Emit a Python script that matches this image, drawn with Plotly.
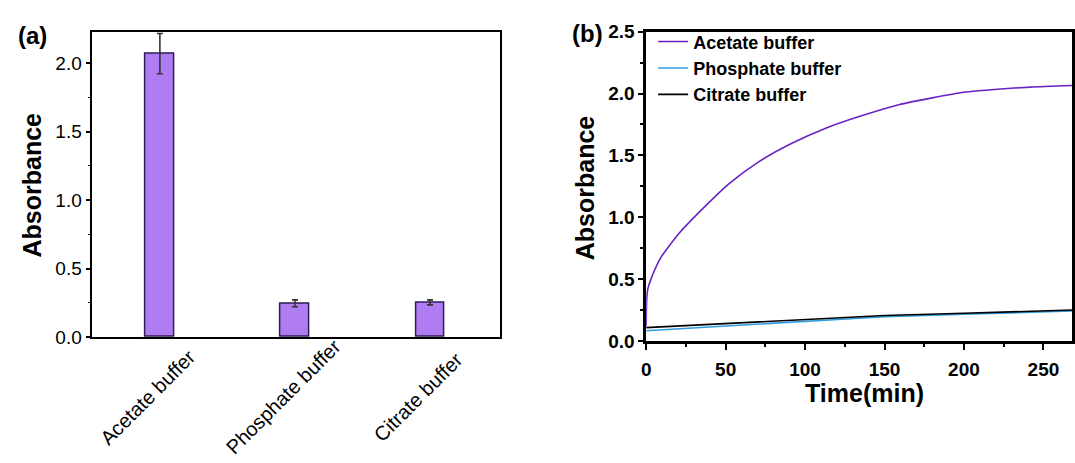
import plotly.graph_objects as go

# ---------------- data ----------------
buffers = ["Acetate buffer", "Phosphate buffer", "Citrate buffer"]
bar_values = [2.07, 0.247, 0.254]
bar_errors = [0.147, 0.025, 0.018]

time_acetate = [0, 0.3, 1, 3, 9, 21, 38, 52, 71, 92, 113, 133, 159, 180, 200, 221, 242, 268]
abs_acetate = [0.12, 0.33, 0.42, 0.50, 0.67, 0.875, 1.10, 1.27, 1.45, 1.60, 1.72, 1.81,
               1.91, 1.965, 2.01, 2.035, 2.052, 2.065]

time_phosphate = [0, 50, 100, 150, 200, 268]
abs_phosphate = [0.083, 0.121, 0.160, 0.196, 0.216, 0.242]

time_citrate = [0, 50, 100, 150, 200, 268]
abs_citrate = [0.108, 0.139, 0.175, 0.206, 0.224, 0.250]

y_ticks_a = [0.0, 0.5, 1.0, 1.5, 2.0]
y_ticks_b = [0.0, 0.5, 1.0, 1.5, 2.0, 2.5]
x_ticks_b = [0, 50, 100, 150, 200, 250]

FONT = "Arial, Liberation Sans, sans-serif"
W, H = 1075, 463

fig = go.Figure()

# ---------------- panel (a) ----------------
fig.add_trace(go.Bar(
    x=buffers, y=bar_values,
    error_y=dict(type="data", array=bar_errors, visible=True,
                 color="#333333", thickness=1.6, width=3),
    marker=dict(color="#b07cf2", line=dict(color="#2e1a55", width=1.5)),
    width=0.21, showlegend=False, xaxis="x", yaxis="y",
))

# ---------------- panel (b) ----------------
fig.add_trace(go.Scatter(
    x=time_acetate, y=abs_acetate, mode="lines", name="Acetate buffer",
    line=dict(color="#6a22c4", width=1.6, shape="spline", smoothing=0.6),
    xaxis="x2", yaxis="y2",
))
fig.add_trace(go.Scatter(
    x=time_phosphate, y=abs_phosphate, mode="lines", name="Phosphate buffer",
    line=dict(color="#2f9be0", width=1.6),
    xaxis="x2", yaxis="y2",
))
fig.add_trace(go.Scatter(
    x=time_citrate, y=abs_citrate, mode="lines", name="Citrate buffer",
    line=dict(color="#000000", width=1.6),
    xaxis="x2", yaxis="y2",
))

annotations = []
# rotated category labels for panel (a)
for b in buffers:
    annotations.append(dict(
        x=b, y=1 - 405 / H, xref="x", yref="paper", text=b, showarrow=False,
        textangle=-45, xanchor="center", yanchor="middle", xshift=-12,
        font=dict(family=FONT, size=20, color="#000000"),
    ))

annotations += [
    dict(x=28 / W, y=1 - 27 / H, xref="paper", yref="paper", text="<b>(a)</b>",
         showarrow=False, xanchor="center", yanchor="middle",
         font=dict(family=FONT, size=24, color="#000000")),
    dict(x=587 / W, y=1 - 25 / H, xref="paper", yref="paper", text="<b>(b)</b>",
         showarrow=False, xanchor="center", yanchor="middle",
         font=dict(family=FONT, size=24, color="#000000")),
    dict(x=27 / W, y=1 - 183 / H, xref="paper", yref="paper", text="<b>Absorbance</b>",
         showarrow=False, textangle=-90, xanchor="center", yanchor="middle",
         font=dict(family=FONT, size=25, color="#000000")),
    dict(x=584 / W, y=1 - 186 / H, xref="paper", yref="paper", text="<b>Absorbance</b>",
         showarrow=False, textangle=-90, xanchor="center", yanchor="middle",
         font=dict(family=FONT, size=25, color="#000000")),
    dict(x=866 / W, y=1 - 401 / H, xref="paper", yref="paper", text="<b>Time(min)</b>",
         showarrow=False, xanchor="center", yanchor="middle",
         font=dict(family=FONT, size=25, color="#000000")),
]

fig.update_layout(
    width=W, height=H,
    margin=dict(l=0, r=0, t=0, b=0),
    paper_bgcolor="white", plot_bgcolor="white",
    font=dict(family=FONT, color="#000000"),
    bargap=0.0,
    xaxis=dict(
        domain=[88 / W, 499 / W], anchor="y",
        range=[-0.5, 2.52], type="category",
        showline=True, linecolor="#000000", linewidth=1.5, mirror=True,
        ticks="", showticklabels=False, showgrid=False, zeroline=False,
    ),
    yaxis=dict(
        domain=[1 - 342.7 / H, 1 - 22.7 / H], anchor="x",
        range=[0, 2.23],
        tickvals=y_ticks_a, ticktext=[f"{v:.1f}" for v in y_ticks_a],
        showline=True, linecolor="#000000", linewidth=1.5, mirror=True,
        ticks="outside", ticklen=5, tickwidth=1.5, tickcolor="#000000",
        minor=dict(dtick=0.25, ticks="outside", ticklen=3, tickwidth=1.2,
                   tickcolor="#000000", showgrid=False),
        tickfont=dict(family=FONT, size=19, color="#000000"),
        showgrid=False, zeroline=False,
    ),
    xaxis2=dict(
        domain=[646 / W, 1.0], anchor="y2",
        range=[0, 268],
        tickvals=x_ticks_b, ticktext=[f"<b>{v}</b>" for v in x_ticks_b],
        showline=True, linecolor="#000000", linewidth=2.5, mirror=True,
        ticks="outside", ticklen=6, tickwidth=2, tickcolor="#000000",
        minor=dict(dtick=25, ticks="outside", ticklen=3, tickwidth=1.5,
                   tickcolor="#000000", showgrid=False),
        tickfont=dict(family=FONT, size=19, color="#000000"),
        ticklabelstandoff=3,
        showgrid=False, zeroline=False,
    ),
    yaxis2=dict(
        domain=[1 - 346.7 / H, 1 - 22.7 / H], anchor="x2",
        range=[0, 2.5],
        tickvals=y_ticks_b, ticktext=[f"<b>{v:.1f}</b>" for v in y_ticks_b],
        showline=True, linecolor="#000000", linewidth=2.5, mirror=True,
        ticks="outside", ticklen=5, tickwidth=2, tickcolor="#000000",
        minor=dict(dtick=0.25, ticks="outside", ticklen=3, tickwidth=1.5,
                   tickcolor="#000000", showgrid=False),
        tickfont=dict(family=FONT, size=19, color="#000000"),
        showgrid=False, zeroline=False,
    ),
    legend=dict(
        x=653 / W, y=1 - 14 / H, xanchor="left", yanchor="top",
        bgcolor="rgba(0,0,0,0)", borderwidth=0,
        font=dict(family=FONT, size=18, color="#000000", weight="bold"),
        tracegroupgap=0, itemwidth=30,
    ),
    annotations=annotations,
)

fig.write_html("out.html")
